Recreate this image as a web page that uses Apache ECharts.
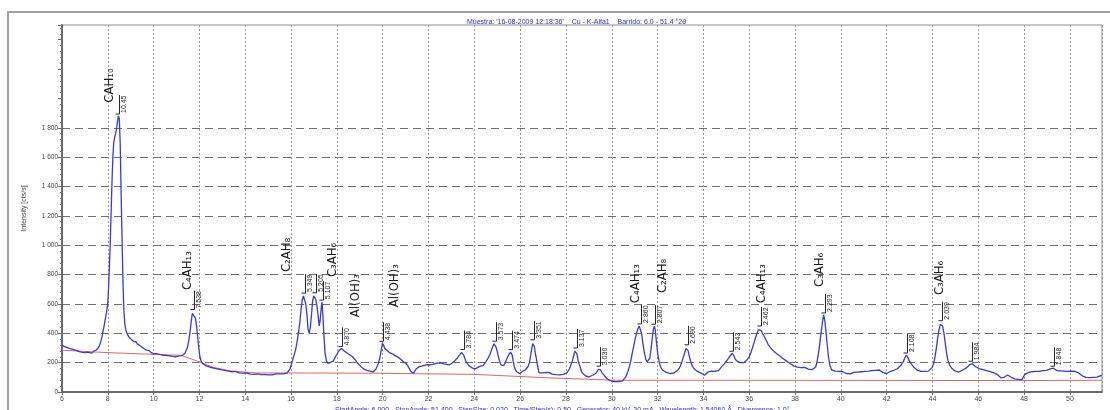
<!DOCTYPE html>
<html>
<head>
<meta charset="utf-8">
<script src="https://cdn.jsdelivr.net/npm/echarts@6/dist/echarts.min.js"></script>
<style>
  html, body { margin: 0; padding: 0; background: #ffffff; }
  #chart { width: 1110px; height: 410px; }
</style>
</head>
<body>
<div id="chart"></div>
<script>
// Diffractogram: [2θ (deg), intensity (counts)]
const scan = [
  [6.00,318],[6.05,305],[6.10,311],[6.15,298],[6.20,304],[6.25,292],[6.30,299],[6.35,286],[6.40,293],[6.45,280],
  [6.50,288],[6.55,276],[6.60,283],[6.65,270],[6.70,279],[6.75,266],[6.80,274],[6.85,262],[6.90,270],[6.95,259],
  [7.00,268],[7.05,262],[7.10,271],[7.15,260],[7.20,268],[7.25,274],[7.30,265],[7.35,272],[7.40,280],[7.45,276],
  [7.50,286],[7.55,294],[7.60,305],[7.65,322],[7.70,348],[7.75,380],[7.80,420],[7.85,460],[7.90,505],[7.95,548],
  [8.00,610],[8.03,700],[8.06,820],[8.10,980],[8.14,1200],[8.18,1420],[8.22,1600],[8.26,1700],[8.30,1735],[8.34,1760],
  [8.38,1790],[8.42,1840],[8.46,1880],[8.50,1865],[8.54,1700],[8.57,1450],[8.60,1200],[8.63,980],[8.66,760],[8.70,560],
  [8.74,470],[8.78,428],[8.83,400],[8.88,388],[8.93,372],[8.98,366],[9.03,358],[9.08,352],[9.13,344],[9.18,338],
  [9.23,342],[9.28,328],[9.33,322],[9.38,318],[9.43,312],[9.48,306],[9.53,302],[9.58,296],[9.63,290],[9.68,285],
  [9.73,280],[9.78,284],[9.83,274],[9.88,270],[9.93,266],[9.98,262],[10.05,258],[10.12,262],[10.19,252],[10.26,256],
  [10.33,248],[10.40,252],[10.47,244],[10.54,250],[10.61,240],[10.68,246],[10.75,236],[10.82,242],[10.89,234],[10.96,240],
  [11.03,238],[11.10,246],[11.17,252],[11.24,248],[11.30,256],[11.36,262],[11.42,275],[11.48,305],[11.54,355],[11.59,410],
  [11.64,480],[11.69,535],[11.73,548],[11.77,540],[11.82,505],[11.87,455],[11.92,380],[11.97,300],[12.02,240],[12.08,208],
  [12.15,192],[12.22,186],[12.30,178],[12.38,176],[12.46,170],[12.54,168],[12.62,162],[12.70,165],[12.78,158],[12.86,156],
  [12.94,152],[13.02,154],[13.10,148],[13.18,146],[13.26,142],[13.34,144],[13.42,138],[13.50,136],[13.58,140],[13.66,132],
  [13.74,130],[13.82,134],[13.90,128],[13.98,126],[14.06,130],[14.14,124],[14.22,122],[14.30,127],[14.38,120],[14.46,118],
  [14.54,123],[14.62,116],[14.70,119],[14.78,114],[14.86,118],[14.94,113],[15.02,117],[15.10,121],[15.18,116],[15.26,120],
  [15.34,124],[15.42,119],[15.50,123],[15.58,118],[15.66,124],[15.74,120],[15.82,128],[15.90,140],[15.96,160],[16.02,194],
  [16.08,225],[16.14,256],[16.20,290],[16.26,340],[16.32,400],[16.38,470],[16.44,570],[16.49,630],[16.54,655],[16.59,660],
  [16.64,600],[16.69,530],[16.74,430],[16.79,400],[16.84,440],[16.89,520],[16.94,620],[16.99,655],[17.03,662],[17.08,630],
  [17.13,585],[17.18,520],[17.23,450],[17.27,490],[17.31,565],[17.35,612],[17.39,520],[17.43,400],[17.48,270],[17.54,215],
  [17.60,195],[17.66,198],[17.72,202],[17.78,206],[17.84,210],[17.90,228],[17.96,246],[18.02,262],[18.08,280],[18.14,292],
  [18.20,296],[18.26,286],[18.32,280],[18.38,274],[18.44,266],[18.50,262],[18.56,254],[18.62,246],[18.68,240],[18.74,228],
  [18.80,220],[18.86,205],[18.92,192],[18.98,184],[19.04,176],[19.10,166],[19.16,160],[19.22,152],[19.28,148],[19.34,146],
  [19.40,140],[19.46,142],[19.52,138],[19.58,136],[19.64,140],[19.70,155],[19.76,175],[19.82,200],[19.88,235],[19.94,290],
  [19.99,332],[20.04,318],[20.09,296],[20.14,286],[20.20,282],[20.26,272],[20.32,266],[20.38,262],[20.44,258],[20.50,250],
  [20.56,246],[20.62,240],[20.68,236],[20.74,230],[20.80,222],[20.86,212],[20.92,204],[20.98,196],[21.04,190],[21.10,176],
  [21.16,160],[21.22,142],[21.28,130],[21.34,128],[21.40,140],[21.46,156],[21.52,168],[21.58,172],[21.64,164],[21.70,176],
  [21.76,170],[21.82,182],[21.88,175],[21.94,186],[22.00,180],[22.06,184],[22.12,176],[22.18,188],[22.24,182],[22.30,194],
  [22.36,186],[22.42,196],[22.48,190],[22.54,198],[22.60,186],[22.66,192],[22.72,180],[22.78,188],[22.84,178],[22.90,184],
  [22.96,190],[23.02,196],[23.08,204],[23.14,212],[23.20,220],[23.26,232],[23.32,246],[23.38,258],[23.44,270],[23.49,276],
  [23.54,250],[23.60,222],[23.66,200],[23.72,190],[23.78,178],[23.84,170],[23.90,165],[23.96,160],[24.02,158],[24.08,162],
  [24.14,166],[24.20,170],[24.26,176],[24.32,172],[24.38,180],[24.44,192],[24.50,206],[24.56,220],[24.62,236],[24.68,256],
  [24.74,282],[24.80,308],[24.86,328],[24.90,332],[24.95,305],[25.00,276],[25.05,240],[25.10,210],[25.16,185],[25.22,172],
  [25.28,180],[25.34,196],[25.40,220],[25.46,240],[25.52,258],[25.58,272],[25.62,275],[25.66,248],[25.70,205],[25.75,172],
  [25.80,150],[25.86,136],[25.92,128],[25.98,126],[26.04,132],[26.10,140],[26.16,146],[26.22,150],[26.28,156],[26.34,172],
  [26.40,198],[26.45,240],[26.50,290],[26.55,330],[26.58,342],[26.62,310],[26.66,265],[26.70,235],[26.76,180],[26.82,132],
  [26.88,124],[26.94,130],[27.00,136],[27.08,132],[27.16,140],[27.24,134],[27.32,128],[27.40,122],[27.48,126],[27.56,118],
  [27.64,114],[27.72,116],[27.80,112],[27.88,120],[27.96,124],[28.04,130],[28.10,142],[28.16,160],[28.22,185],[28.28,212],
  [28.34,250],[28.39,278],[28.43,286],[28.48,260],[28.53,215],[28.58,188],[28.64,160],[28.70,132],[28.76,120],[28.84,112],
  [28.92,106],[29.00,102],[29.08,108],[29.16,114],[29.24,120],[29.30,126],[29.36,140],[29.42,155],[29.46,162],[29.51,150],
  [29.56,134],[29.62,124],[29.68,112],[29.74,98],[29.80,88],[29.86,82],[29.92,78],[29.98,75],[30.06,72],[30.14,70],
  [30.22,68],[30.30,70],[30.38,72],[30.46,76],[30.54,82],[30.60,100],[30.66,120],[30.72,148],[30.78,180],[30.84,220],
  [30.90,270],[30.96,315],[31.02,360],[31.08,400],[31.14,432],[31.20,448],[31.25,450],[31.30,400],[31.36,330],[31.42,270],
  [31.48,225],[31.54,205],[31.60,198],[31.66,230],[31.72,300],[31.77,370],[31.82,430],[31.86,448],[31.90,420],[31.95,340],
  [32.01,255],[32.08,196],[32.15,165],[32.22,148],[32.30,138],[32.38,134],[32.46,128],[32.54,126],[32.62,132],[32.70,128],
  [32.78,138],[32.86,146],[32.94,160],[33.00,180],[33.06,205],[33.12,236],[33.18,266],[33.24,296],[33.28,308],[33.33,282],
  [33.39,240],[33.45,206],[33.51,178],[33.58,160],[33.66,148],[33.74,140],[33.82,136],[33.90,128],[33.98,120],[34.05,114],
  [34.12,122],[34.20,136],[34.27,148],[34.34,142],[34.42,136],[34.50,140],[34.58,134],[34.66,146],[34.74,158],[34.82,176],
  [34.90,190],[34.98,206],[35.06,222],[35.14,240],[35.20,252],[35.26,264],[35.32,250],[35.38,228],[35.44,214],[35.52,206],
  [35.60,200],[35.68,196],[35.76,200],[35.84,210],[35.92,222],[36.00,240],[36.08,270],[36.16,310],[36.24,352],[36.32,390],
  [36.40,425],[36.46,436],[36.52,420],[36.58,398],[36.66,378],[36.74,352],[36.82,325],[36.90,308],[36.98,292],[37.06,280],
  [37.14,268],[37.22,262],[37.30,250],[37.38,240],[37.46,230],[37.54,222],[37.62,212],[37.70,200],[37.78,194],[37.86,186],
  [37.94,178],[38.02,174],[38.10,170],[38.18,176],[38.26,166],[38.34,162],[38.42,168],[38.50,160],[38.58,156],[38.66,162],
  [38.74,152],[38.82,148],[38.90,170],[38.96,205],[39.02,260],[39.08,330],[39.14,410],[39.20,480],[39.25,525],[39.30,485],
  [39.35,410],[39.40,330],[39.46,240],[39.52,182],[39.60,150],[39.68,138],[39.76,142],[39.84,136],[39.92,140],[40.00,134],
  [40.08,138],[40.16,130],[40.24,126],[40.32,132],[40.40,124],[40.48,128],[40.56,134],[40.64,130],[40.72,136],[40.80,132],
  [40.88,138],[40.96,134],[41.04,140],[41.12,136],[41.20,142],[41.28,138],[41.36,146],[41.44,140],[41.52,148],[41.60,144],
  [41.68,150],[41.76,140],[41.84,132],[41.92,128],[42.00,126],[42.08,134],[42.16,140],[42.24,146],[42.32,148],[42.40,150],
  [42.48,160],[42.56,170],[42.64,186],[42.72,205],[42.80,235],[42.86,252],[42.92,238],[42.98,215],[43.04,198],[43.10,186],
  [43.18,170],[43.26,158],[43.34,148],[43.42,144],[43.50,140],[43.58,136],[43.66,140],[43.74,136],[43.82,142],[43.90,150],
  [43.98,166],[44.04,190],[44.10,230],[44.16,290],[44.22,360],[44.28,420],[44.34,460],[44.39,472],[44.44,450],[44.50,400],
  [44.56,330],[44.62,260],[44.68,212],[44.76,180],[44.84,162],[44.92,150],[45.00,142],[45.08,138],[45.16,136],[45.24,142],
  [45.32,150],[45.40,158],[45.48,164],[45.56,174],[45.62,186],[45.68,196],[45.74,192],[45.80,180],[45.88,172],[45.96,166],
  [46.04,160],[46.12,156],[46.20,152],[46.28,150],[46.36,146],[46.44,142],[46.52,138],[46.60,134],[46.68,130],[46.76,126],
  [46.84,118],[46.92,108],[47.00,96],[47.06,90],[47.12,100],[47.20,110],[47.28,116],[47.36,112],[47.44,100],[47.52,92],
  [47.60,90],[47.68,94],[47.76,86],[47.84,80],[47.90,84],[47.96,100],[48.02,118],[48.10,126],[48.18,132],[48.26,130],
  [48.34,138],[48.42,134],[48.50,140],[48.58,144],[48.66,140],[48.74,148],[48.82,146],[48.90,152],[48.98,148],[49.06,154],
  [49.14,158],[49.22,156],[49.28,162],[49.34,152],[49.42,146],[49.50,150],[49.58,144],[49.66,138],[49.74,142],[49.82,136],
  [49.90,140],[49.98,138],[50.06,142],[50.14,136],[50.22,140],[50.30,138],[50.38,130],[50.46,120],[50.54,110],[50.62,104],
  [50.70,100],[50.78,104],[50.86,98],[50.94,102],[51.02,100],[51.10,106],[51.18,102],[51.26,108],[51.34,112],[51.40,110]
];

// Fitted background under the pattern
const background = [
  [6.0,285],[7.5,272],[9.0,262],[11.2,250],[12.0,205],[12.6,168],[13.4,142],[14.5,130],
  [19.6,128],[24.0,120],[27.3,96],[30.2,80],[34.0,80],[47.9,78],[51.4,80]
];

// Peak search results: position, height, d-spacing (Å)
const peakAngles  = [8.46, 11.73, 16.56, 17.03, 17.35, 18.20, 19.99, 23.49, 24.90, 25.62, 26.58, 28.43,
                     29.46, 31.25, 31.86, 33.28, 35.26, 36.46, 39.25, 42.86, 44.39, 45.68, 49.28];
const peakCounts  = [1880, 548, 660, 662, 612, 296, 332, 276, 332, 275, 342, 286,
                     162, 450, 448, 308, 264, 436, 525, 252, 472, 196, 162];
const dSpacings   = ['10.45', '7.538', '5.349', '5.205', '5.107', '4.870', '4.438', '3.784', '3.573', '3.474',
                     '3.351', '3.137', '3.030', '2.860', '2.807', '2.690', '2.543', '2.462', '2.293', '2.108',
                     '2.039', '1.984', '1.848'];

// Phase identification tags: 2θ and intensity level where each tag starts
const phaseNames  = ['CAH₁₀', 'C₄AH₁₃', 'C₂AH₈', 'C₃AH₆', 'Al(OH)₃', 'Al(OH)₃',
                     'C₄AH₁₃', 'C₂AH₈', 'C₄AH₁₃', 'C₃AH₆', 'C₃AH₆'];
const phaseAngles = [8.10, 11.50, 15.81, 17.80, 18.83, 20.52, 31.05, 32.24, 36.56, 39.07, 44.29];
const phaseLevels = [1971, 694, 817, 783, 510, 578, 605, 674, 605, 715, 660];

const yLabelTop = 1800;
const smallFont = 'Liberation Sans, Arial, sans-serif';

const chart = echarts.init(document.getElementById('chart'), null, { renderer: 'canvas' });

// horizontal grid only up to the last labelled level
const gridColors = [];
for (let v = 0; v <= 2500; v += 200) gridColors.push(v <= yLabelTop ? '#6e6e6e' : 'rgba(0,0,0,0)');
gridColors.push('rgba(0,0,0,0)');

// peak marker: short vertical tick above the apex with the d-spacing beside it
function renderPeakTag(params, api) {
  const p = api.coord([api.value(0), api.value(1)]);
  const x = Math.round(p[0]) + 1.5;
  const y = p[1] - 2;
  return {
    type: 'group',
    children: [
      { type: 'line', shape: { x1: x, y1: y, x2: x, y2: y - 19 },
        style: { stroke: '#262626', lineWidth: 1 } },
      { type: 'line', shape: { x1: x - 4, y1: y, x2: x, y2: y },
        style: { stroke: '#262626', lineWidth: 1 } },
      { type: 'text', x: x + 1, y: y - 1, rotation: Math.PI / 2,
        style: { text: dSpacings[params.dataIndex], fontSize: 7, fontFamily: smallFont,
                 fill: '#262626', align: 'left', verticalAlign: 'top' } }
    ]
  };
}

// phase name written upward from its anchor
function renderPhaseTag(params, api) {
  const p = api.coord([api.value(0), api.value(1)]);
  return {
    type: 'text', x: p[0], y: p[1], rotation: Math.PI / 2,
    style: {
      text: phaseNames[params.dataIndex], fontSize: 13, fill: '#1a1a1a',
      fontFamily: "'Liberation Sans Narrow', 'DejaVu Sans Condensed', 'Liberation Sans', sans-serif",
      align: 'left', verticalAlign: 'middle'
    }
  };
}

const option = {
  animation: false,
  backgroundColor: '#ffffff',
  title: [
    {
      text: "Muestra: '16-08-2009 12:18:36'    Cu - K-Alfa1    Barrido: 6.0 - 51.4 °2θ",
      left: 462, top: 14,
      textStyle: { fontSize: 7, fontWeight: 'normal', color: '#2e2ed0', fontFamily: smallFont }
    },
    {
      text: 'StartAngle: 6.000   StopAngle: 51.400   StepSize: 0.020   Time/Step(s): 0.50   Generator: 40 kV, 30 mA   Wavelength: 1.54060 Å   Divergence: 1.0°',
      left: 330, top: 402,
      textStyle: { fontSize: 7, fontWeight: 'normal', color: '#2e2ed0', fontFamily: smallFont }
    }
  ],
  graphic: [
    {
      type: 'rect', silent: true, z: -1,
      shape: { x: 8, y: 12, width: 1130, height: 430 },
      style: { fill: 'none', stroke: '#a0a0a0', lineWidth: 2 }
    }
  ],
  grid: {
    left: 62, right: 8, top: 25, bottom: 18,
    show: true, borderColor: '#8c8c8c', borderWidth: 1, backgroundColor: 'rgba(0,0,0,0)'
  },
  xAxis: {
    type: 'value', min: 6, max: 51.4, interval: 2,
    axisLine: { onZero: false, lineStyle: { color: '#6a6a6a', width: 2 } },
    axisTick: { show: true, length: 3, lineStyle: { color: '#6a6a6a' } },
    axisLabel: { fontSize: 7, color: '#444', margin: 4, showMaxLabel: false, fontFamily: smallFont },
    splitLine: { show: true, lineStyle: { color: '#9a9a9a', type: [2, 2], width: 1 } }
  },
  yAxis: {
    type: 'value', min: 0, max: 2500, interval: 200,
    name: 'Intensity [cts/s]',
    nameLocation: 'middle', nameGap: 34, nameRotate: 90,
    nameTextStyle: { fontSize: 7, color: '#444', fontFamily: smallFont },
    axisLine: { show: true, lineStyle: { color: '#6a6a6a', width: 2 } },
    axisTick: { show: true, length: 4, lineStyle: { color: '#6a6a6a' } },
    minorTick: { show: true, splitNumber: 5, length: 2, lineStyle: { color: '#7a7a7a' } },
    axisLabel: {
      fontSize: 6.5, color: '#444', margin: 4, fontFamily: smallFont,
      formatter: v => {
        if (v > yLabelTop) return '';
        return v >= 1000 ? String(v).replace(/(\d)(\d{3})$/, '$1 $2') : String(v);
      }
    },
    splitLine: { show: true, lineStyle: { color: gridColors, type: [8, 5], width: 1 } }
  },
  series: [
    {
      name: 'background', type: 'line', data: background,
      showSymbol: false, silent: true, z: 2,
      lineStyle: { color: '#e2685c', width: 1 }
    },
    {
      name: 'pattern', type: 'line', data: scan,
      showSymbol: false, silent: true, z: 3,
      lineStyle: { color: '#3838dc', width: 1.3 }
    },
    {
      name: 'peaks', type: 'custom', silent: true, z: 4,
      data: peakAngles.map((a, i) => [a, peakCounts[i]]),
      renderItem: renderPeakTag
    },
    {
      name: 'phases', type: 'custom', silent: true, z: 5,
      data: phaseAngles.map((a, i) => [a, phaseLevels[i]]),
      renderItem: renderPhaseTag
    }
  ]
};

chart.setOption(option);
</script>
</body>
</html>
